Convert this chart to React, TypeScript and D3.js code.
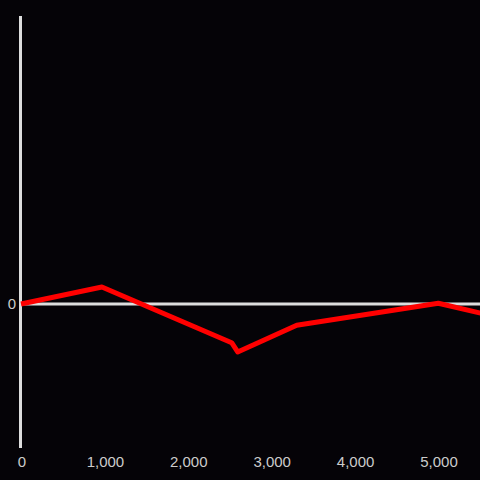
import React from "react";
import * as d3 from "d3";

const xValues = [0, 970, 2526, 2598, 3306, 5004, 5520];
const yValues = [0, 0.118, -0.269, -0.333, -0.148, 0.005, -0.065];
const xTicks = [0, 1000, 2000, 3000, 4000, 5000];
const yTicks = [0];

export default function App() {
  const W = 480, H = 480;
  const x = d3.scaleLinear().domain([0, 5000]).range([21, 438]);
  const y = d3.scaleLinear().domain([-1, 2]).range([448, 16]);
  const pts = xValues.map((v, i) => [v, yValues[i]] as [number, number]);
  const line = d3.line<[number, number]>().x(d => x(d[0])).y(d => y(d[1]));
  const fmt = d3.format(",");
  return (
    <svg width={W} height={H} style={{ position: "fixed", left: 0, top: 0, background: "#050307" }}>
      <rect width={W} height={H} fill="#050307" />
      <line x1={20.5} x2={20.5} y1={16} y2={448} stroke="#dddddd" strokeWidth={3} />
      {yTicks.map(t => (
        <g key={t}>
          <line x1={20} x2={W} y1={y(t)} y2={y(t)} stroke="#dddddd" strokeWidth={3} />
          <text x={16} y={y(t)} dy="0.35em" textAnchor="end" fill="#cccccc" fontSize={15} fontFamily="Liberation Sans, Arial, sans-serif">{t}</text>
        </g>
      ))}
      {xTicks.map(t => (
        <text key={t} x={x(t) + 1} y={467} textAnchor="middle" fill="#cccccc" fontSize={15} fontFamily="Liberation Sans, Arial, sans-serif">{fmt(t)}</text>
      ))}
      <path d={line(pts) || ""} fill="none" stroke="#ff0000" strokeWidth={5} strokeLinejoin="round" />
    </svg>
  );
}
